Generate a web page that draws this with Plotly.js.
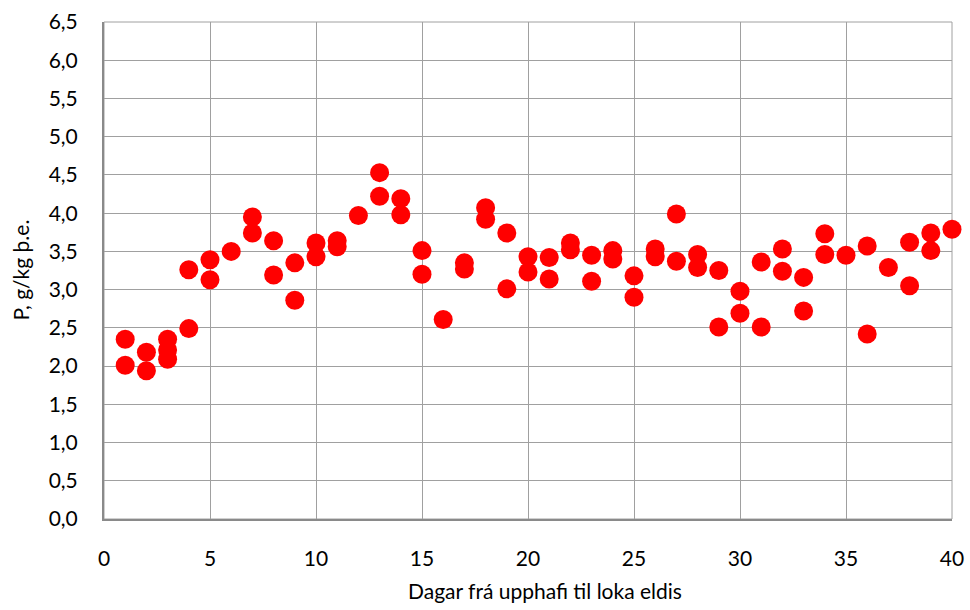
<!DOCTYPE html>
<html>
<head>
<meta charset="utf-8">
<script src="https://cdn.plot.ly/plotly-3.0.1.min.js"></script>
<style>html,body{margin:0;padding:0;background:#fff;}#chart{width:970px;height:610px;}</style>
</head>
<body>
<div id="chart"></div>
<script>
var days = [1,1,2,2,3,3,3,4,4,5,5,6,7,7,8,8,9,9,10,10,11,11,12,13,13,14,14,15,15,16,17,17,18,18,19,19,20,20,21,21,22,22,23,23,24,24,25,25,26,26,27,27,28,28,29,29,30,30,31,31,32,32,33,33,34,34,35,36,36,37,38,38,39,39,40];
var pValues = [2.35,2.01,2.18,1.94,2.35,2.21,2.09,3.26,2.49,3.39,3.13,3.50,3.95,3.74,3.64,3.19,3.35,2.86,3.61,3.43,3.64,3.56,3.97,4.53,4.22,4.19,3.98,3.51,3.20,2.61,3.35,3.27,4.07,3.92,3.74,3.01,3.43,3.23,3.42,3.14,3.61,3.52,3.45,3.11,3.51,3.40,3.18,2.90,3.53,3.43,3.99,3.37,3.46,3.29,3.25,2.51,2.98,2.69,3.36,2.51,3.53,3.24,3.16,2.72,3.73,3.46,3.45,3.57,2.42,3.29,3.62,3.05,3.74,3.51,3.79];
var xTitle = "Dagar frá upphafi til loka eldis";
var yTitle = "P, g/kg þ.e.";

var trace = {
  x: days, y: pValues, type: "scatter", mode: "markers",
  marker: {color: "#ff0000", size: 19, line: {width: 0}},
  cliponaxis: false, hoverinfo: "x+y"
};
var fam = "Lato, 'Open Sans', sans-serif";
var tickFont = {family: fam, size: 21, color: "#000"};
var titleFont = {family: fam, size: 21, color: "#000"};
var layout = {
  width: 970, height: 610,
  margin: {l: 104, r: 18, t: 22, b: 91},
  paper_bgcolor: "#fff", plot_bgcolor: "#fff",
  separators: ", ",
  font: tickFont,
  showlegend: false,
  xaxis: {
    range: [0, 40], tick0: 0, dtick: 5, tickmode: "linear",
    showgrid: true, gridcolor: "#a0a0a0", gridwidth: 1,
    showline: true, linecolor: "#8a8a8a", linewidth: 2,
    zeroline: false, ticks: "", ticklen: 0,
    ticklabelstandoff: 20,
    tickfont: tickFont
  },
  yaxis: {
    range: [0, 6.5], tick0: 0, dtick: 0.5, tickmode: "linear", tickformat: ".1f",
    showgrid: true, gridcolor: "#a0a0a0", gridwidth: 1,
    showline: true, linecolor: "#8a8a8a", linewidth: 2,
    zeroline: false, ticks: "", ticklen: 0,
    ticklabelstandoff: 20,
    tickfont: tickFont
  },
  annotations: [
    {text: xTitle, xref: "paper", yref: "paper", x: 0.52, y: -0.143,
     xanchor: "center", yanchor: "middle", showarrow: false, font: titleFont},
    {text: yTitle, xref: "paper", yref: "paper", x: -0.099, y: 0.5, textangle: -90,
     xanchor: "center", yanchor: "middle", showarrow: false, font: titleFont}
  ],
  shapes: [
    {type: "rect", xref: "paper", yref: "paper", x0: 0, x1: 1, y0: 0, y1: 1,
     line: {color: "#a0a0a0", width: 1}, layer: "below"}
  ]
};
Plotly.newPlot("chart", [trace], layout, {displayModeBar: false, staticPlot: true});
</script>
</body>
</html>
